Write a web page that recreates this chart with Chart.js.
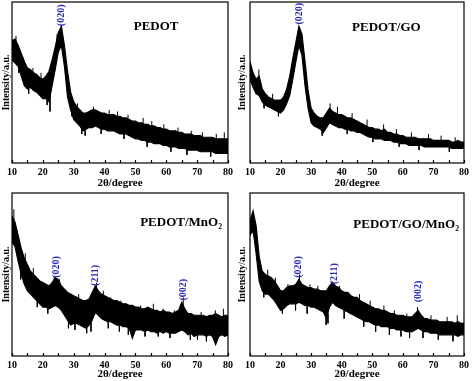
<!DOCTYPE html>
<html lang="en">
<head>
<meta charset="UTF-8">
<title>XRD patterns</title>
<script src="https://cdn.jsdelivr.net/npm/chart.js"></script>
<style>
  body { margin: 0; background: #fff; }
  #wrap { position: relative; width: 472px; height: 381px; }
  canvas { position: absolute; }
</style>
</head>
<body>
<div id="wrap">
  <canvas id="c1" width="236" height="190" style="left:0;top:0"></canvas>
  <canvas id="c2" width="236" height="190" style="left:236px;top:0"></canvas>
  <canvas id="c3" width="236" height="191" style="left:0;top:190px"></canvas>
  <canvas id="c4" width="236" height="191" style="left:236px;top:190px"></canvas>
</div>
<script>
// 2theta from 10 to 80 deg, one upper and one lower noise envelope value per degree
const xTicks = [10, 20, 30, 40, 50, 60, 70, 80];

const names = ['PEDOT', 'PEDOT/GO', 'PEDOT/MnO\u2082', 'PEDOT/GO/MnO\u2082'];

const hi1 = [76,77,73,68,63,59,58,56,55,53, 52,54,57,64,72,81,85,73,57,44, 38,35,33,31,31,32,33,33,32,31, 31,30,30,30,29,29,28,28,27,26, 26,25,25,24,24,23,23,22,22,21, 21,20,20,20,19,19,18,18,18,17, 17,17,16,16,16,16,15,15,15,15, 15];
const lo1 = [64,62,60,54,48,46,47,45,44,42, 40,40,38,48,58,69,73,60,41,33, 27,25,23,20,21,22,22,23,22,21, 21,20,20,20,19,18,18,18,17,16, 15,15,14,14,13,13,12,12,12,11, 11,10,10,10,9,9,9,8,8,8, 8,7,7,7,7,7,6,6,6,6, 6];

const hi2 = [63,56,52,54,46,43,41,40,39,39, 39,41,46,54,65,75,85,80,63,45, 34,31,29,28,28,31,34,32,31,30, 30,29,28,28,27,26,25,24,23,22, 22,21,21,20,21,19,19,18,18,17, 17,16,16,16,16,15,15,15,15,15, 14,14,14,14,14,14,13,13,14,13, 13];
const lo2 = [52,47,43,42,38,36,35,34,33,32, 31,33,37,42,52,63,73,67,48,34, 25,23,22,21,19,22,25,24,23,22, 22,21,21,20,20,19,19,18,17,16, 16,15,15,15,14,14,14,13,13,12, 12,12,11,11,11,11,11,10,10,10, 10,10,10,10,10,10,9,9,9,9, 9];

const hi3 = [86,82,74,66,60,56,52,50,48,46, 45,44,43,45,48,47,43,41,39,38, 37,36,35,34,34,35,39,43,40,38, 37,36,35,34,34,33,32,32,31,31, 30,30,29,29,30,29,28,28,27,28, 27,27,26,27,28,33,29,26,26,25, 25,25,25,24,25,25,26,25,24,25, 25];
const lo3 = [70,67,58,50,44,40,38,36,34,32, 30,30,29,30,31,30,28,25,22,19, 20,20,19,18,17,19,22,27,25,23, 22,21,21,20,19,19,18,18,17,11, 16,16,16,15,16,15,15,14,15,14, 15,14,14,14,15,16,15,13,14,12, 13,13,13,12,13,12,7,12,13,12, 13];

const hi4 = [83,89,80,61,52,50,49,48,46,43, 40,40,42,43,43,44,47,44,43,42, 42,41,41,40,40,40,43,45,43,42, 40,39,39,37,36,36,34,33,32,31, 30,29,29,28,28,27,26,26,25,25, 25,24,24,24,26,28,25,23,23,22, 22,22,21,21,21,21,21,20,21,20, 20];
const lo4 = [74,77,63,46,40,38,38,36,34,31, 28,29,31,32,32,32,33,32,31,31, 30,30,29,28,27,23,30,33,31,30, 29,28,27,26,25,24,23,22,21,21, 20,19,19,18,18,18,17,17,16,16, 16,15,15,15,16,17,16,15,15,14, 14,14,13,13,13,13,13,13,12,13, 13];

// single noise spikes sticking out of the band: [2theta, from, to]
const spikes1 = [[11.3,70,79],[13.5,60,66],[16.8,52,59],[19.4,48,56],[24.6,75,80],[31.2,30,37],[36.4,28,35],[41.5,26,33],[44.2,25,32],[47.6,23,30],[52.5,21,28],[55.3,19,26],[59.2,17,24],[63.8,16,22],[68.1,14,20],[71.7,13,19],[76.2,12,18],[78.8,12,19],
  [12.2,64,56],[15.4,50,43],[21.4,44,36],[22.3,44,32],[29.4,36,29],[32.6,26,18],[33.7,25,17],[38.9,24,18],[46.3,21,15],[53.8,17,10],[61.5,12,7],[66.7,10,5],[74.4,9,4]];
const spikes2 = [[12.9,50,58],[17.4,38,43],[36.2,30,37],[38.6,29,35],[43.4,25,31],[48.3,21,27],[53.7,18,24],[57.9,16,21],[62.8,14,19],[68.4,13,18],[72.5,12,17],[77.1,12,16],
  [14.6,40,34],[19.3,35,29],[33.6,24,17],[41.8,23,18],[50.2,18,13],[58.8,14,10],[65.3,12,8],[75.2,11,7]];
const spikes3 = [[10.6,80,90],[14.3,55,63],[16.9,46,54],[19,42,46],[23.7,40,49],[25.4,40,47],[31.6,30,38],[37.4,38,45],[39.6,32,40],[42,30,36],[45.3,28,34],[51.7,25,31],[55.8,24,32],[59,23,29],[62.6,21,28],[65.5,28,36],[71.3,20,27],[75.9,20,28],[78.5,19,29],
  [12.8,55,47],[18.2,38,30],[21.6,34,26],[28.3,27,17],[30.4,23,16],[34.2,22,14],[35.6,22,15],[41.2,24,17],[44.8,22,15],[47.7,20,13],[53.1,18,12],[57.4,18,12],[61.2,17,11],[67.8,16,10],[70.1,15,10],[73,15,9]];
const spikes4 = [[13.7,45,55],[15.8,44,53],[18.3,40,48],[22.4,37,44],[26.2,40,50],[29.6,37,44],[32.2,36,43],[36.8,38,46],[39.3,36,43],[45.8,31,38],[49.3,28,34],[53.8,25,31],[57.2,23,28],[61.3,21,26],[64.8,24,30],[69.2,19,25],[74.5,18,24],[77.8,18,25],
  [14.5,42,36],[20.6,32,26],[24.9,35,28],[28.7,33,26],[34.9,27,19],[35.5,26,20],[40.8,30,23],[47.2,25,18],[51.1,22,15],[55.6,19,13],[59.4,18,12],[62.2,17,11],[66.6,16,11],[71.6,15,10],[76.4,14,9]];

// peak labels: [label, 2theta, intensity at the foot of the label]
const peaks1 = [['(020)', 25.9, 85]];
const peaks2 = [['(020)', 26.3, 86]];
const peaks3 = [['(020)', 24.5, 48], ['(211)', 37.0, 43], ['(002)', 65.6, 34]];
const peaks4 = [['(020)', 26.0, 48], ['(211)', 37.5, 44], ['(002)', 65.0, 33]];

// where each name sits, in data units
const namePos = [[56.7, 84.5], [54.6, 84], [64.8, 81.6], [61.1, 80.4]];

const serif = '"Liberation Serif", "Times New Roman", serif';

function toPoints(vals) {
  return vals.map((v, i) => ({x: 10 + i, y: v}));
}

function spikePoints(list) {
  let pts = [];
  list.forEach(s => {
    pts.push({x: s[0], y: s[1]}, {x: s[0], y: s[2]}, {x: s[0], y: null});
  });
  return pts;
}

const framePlugin = {
  id: 'frame',
  afterDraw(chart) {
    const ctx = chart.ctx, a = chart.chartArea;
    const xs = chart.scales.x, ys = chart.scales.y;
    const o = chart.options.plugins.frame;
    ctx.save();
    ctx.strokeStyle = '#000';
    ctx.lineWidth = 1.2;
    ctx.strokeRect(a.left, a.top, a.right - a.left, a.bottom - a.top);
    ctx.beginPath();
    for (let v = 10; v <= 80; v += 5) {
      let px = Math.round(xs.getPixelForValue(v)) + 0.5;
      ctx.moveTo(px, a.bottom);
      ctx.lineTo(px, a.bottom - 3);
    }
    ctx.stroke();

    ctx.fillStyle = '#2a2ab4';
    ctx.font = 'bold 10px ' + serif;
    ctx.textAlign = 'left';
    ctx.textBaseline = 'middle';
    o.peaks.forEach(p => {
      ctx.save();
      ctx.translate(xs.getPixelForValue(p[1]), ys.getPixelForValue(p[2]));
      ctx.rotate(-Math.PI / 2);
      ctx.fillText(p[0], 0, 0);
      ctx.restore();
    });

    ctx.fillStyle = '#000';
    ctx.font = 'bold 13px ' + serif;
    ctx.textAlign = 'center';
    ctx.fillText(o.name, xs.getPixelForValue(o.pos[0]), ys.getPixelForValue(o.pos[1]));
    ctx.restore();
  }
};

function makeChart(id, hi, lo, spikes, peaks, k, yWidth, xHeight, pad) {
  new Chart(document.getElementById(id), {
    type: 'line',
    data: {
      datasets: [{
        data: toPoints(hi),
        borderColor: '#000',
        borderWidth: 1.2,
        pointRadius: 0,
        tension: 0,
        fill: false
      }, {
        data: toPoints(lo),
        borderColor: '#000',
        borderWidth: 1.2,
        backgroundColor: '#000',
        pointRadius: 0,
        tension: 0,
        fill: '-1'
      }, {
        data: spikePoints(spikes),
        borderColor: '#000',
        borderWidth: 1,
        pointRadius: 0,
        spanGaps: false,
        fill: false
      }]
    },
    options: {
      responsive: false,
      animation: false,
      events: [],
      layout: { padding: pad },
      plugins: {
        legend: { display: false },
        tooltip: { enabled: false },
        frame: { peaks: peaks, name: names[k], pos: namePos[k] }
      },
      scales: {
        x: {
          type: 'linear', min: 10, max: 80,
          afterBuildTicks: s => { s.ticks = xTicks.map(v => ({value: v})); },
          afterFit: s => { s.height = xHeight; },
          grid: { display: false, drawTicks: false },
          border: { display: false },
          ticks: { color: '#000', padding: 3, font: { family: serif, size: 10, weight: 'bold' } },
          title: {
            display: true, text: '2\u03b8/degree', color: '#000',
            padding: { top: 0, bottom: 0 },
            font: { family: serif, size: 11, weight: 'bold' }
          }
        },
        y: {
          min: 0, max: 100,
          afterFit: s => { s.width = yWidth; },
          grid: { display: false, drawTicks: false },
          border: { display: false },
          ticks: { display: false },
          title: {
            display: true, text: 'Intensity/a.u.', color: '#000',
            padding: { top: 0, bottom: 0 },
            font: { family: serif, size: 10, weight: 'bold' }
          }
        }
      }
    },
    plugins: [framePlugin]
  });
}

makeChart('c1', hi1, lo1, spikes1, peaks1, 0, 12, 27, { top: 2, right: 8, left: 0, bottom: 0 });
makeChart('c2', hi2, lo2, spikes2, peaks2, 1, 14, 27, { top: 2, right: 7, left: 0, bottom: 0 });
makeChart('c3', hi3, lo3, spikes3, peaks3, 2, 12, 25, { top: 3, right: 8, left: 0, bottom: 0 });
makeChart('c4', hi4, lo4, spikes4, peaks4, 3, 14, 25, { top: 3, right: 7, left: 0, bottom: 0 });
</script>
</body>
</html>
